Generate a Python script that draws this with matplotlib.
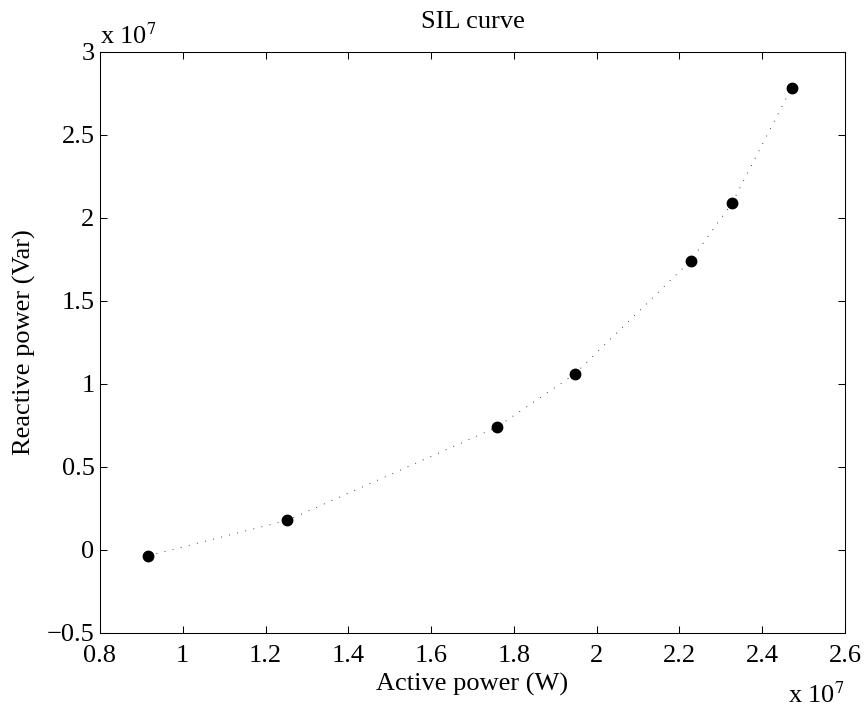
import matplotlib
matplotlib.use("Agg")
import matplotlib.pyplot as plt
from matplotlib.ticker import FuncFormatter

# Times-like font as in the MATLAB figure
plt.rcParams['font.family'] = ['Liberation Serif', 'DejaVu Serif']
plt.rcParams['mathtext.fontset'] = 'stix'

# data (W, Var)
active_power = [0.917e7, 1.253e7, 1.758e7, 1.947e7, 2.227e7, 2.327e7, 2.471e7]
reactive_power = [-0.034e7, 0.179e7, 0.739e7, 1.060e7, 1.743e7, 2.090e7, 2.785e7]

x_ticks = [0.8, 1.0, 1.2, 1.4, 1.6, 1.8, 2.0, 2.2, 2.4, 2.6]
y_ticks = [-0.5, 0, 0.5, 1, 1.5, 2, 2.5, 3]
scale = 1e7
fs = 19

fig = plt.figure(figsize=(8.65, 7.07), dpi=100)
ax = fig.add_axes([0.1156, 0.1047, 0.8613, 0.8218])

ax.plot(active_power, reactive_power, color='black', lw=0.6,
        dashes=(1, 9), zorder=1)
ax.plot(active_power, reactive_power, 'o', color='black', markersize=7.5,
        linestyle='none', zorder=2)

ax.set_xlim(x_ticks[0] * scale, x_ticks[-1] * scale)
ax.set_ylim(y_ticks[0] * scale, y_ticks[-1] * scale)
ax.set_xticks([t * scale for t in x_ticks])
ax.set_yticks([t * scale for t in y_ticks])


def fmt(v, pos):
    return ('%g' % round(v / scale, 3)).replace('-', '\u2212')


ax.xaxis.set_major_formatter(FuncFormatter(fmt))
ax.yaxis.set_major_formatter(FuncFormatter(fmt))

ax.tick_params(direction='in', length=5, width=0.75, top=True, right=True,
               labelsize=fs)
ax.tick_params(axis='x', pad=9)
ax.tick_params(axis='y', pad=4)
for s in ax.spines.values():
    s.set_linewidth(0.75)

ax.set_title('SIL curve', fontsize=fs, pad=17)
ax.set_xlabel('Active power (W)', fontsize=fs, labelpad=4)
ax.set_ylabel('Reactive power (Var)', fontsize=fs, labelpad=8)

# exponent labels like MATLAB
fig.text(100 / 865, 1 - 44 / 707, r'x 10$^{7}$', fontsize=fs, ha='left', va='baseline')
fig.text(845 / 865, 1 - 703 / 707, r'x 10$^{7}$', fontsize=fs, ha='right', va='baseline')

fig.savefig('out.png', dpi=100, facecolor='white')
